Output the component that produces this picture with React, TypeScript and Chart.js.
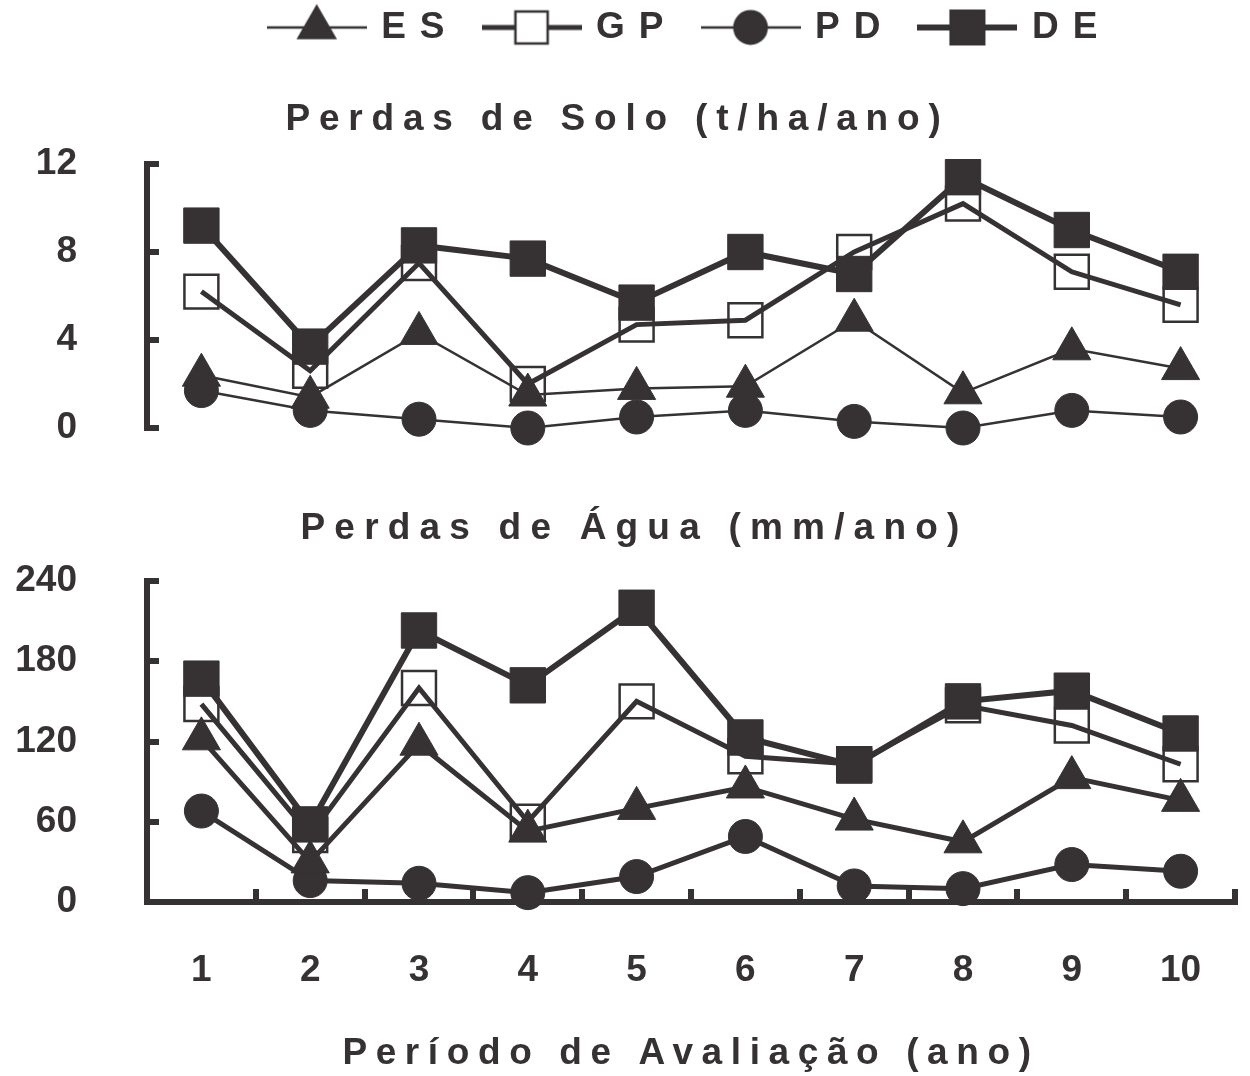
import React, { useEffect, useRef } from 'react';
import { Chart, registerables } from 'chart.js';
import { drawPoint } from 'chart.js/helpers';

Chart.register(...registerables);

// ---------- data ----------
const periods = ['1', '2', '3', '4', '5', '6', '7', '8', '9', '10'];
const seriesNames = ['ES', 'GP', 'PD', 'DE'];

// Perdas de Solo (t/ha/ano)
const soilES = [2.4, 1.4, 4.3, 1.5, 1.8, 1.9, 4.9, 1.6, 3.6, 2.7];
const soilGP = [6.2, 2.6, 7.5, 2.0, 4.7, 4.9, 8.0, 10.2, 7.1, 5.6];
const soilPD = [1.7, 0.8, 0.4, 0.0, 0.5, 0.8, 0.3, 0.0, 0.8, 0.5];
const soilDE = [9.2, 3.7, 8.3, 7.7, 5.7, 8.0, 7.0, 11.4, 9.0, 7.1];

// Perdas de Água (mm/ano)
const waterES = [122, 30, 118, 53, 70, 86, 62, 45, 93, 76];
const waterGP = [148, 50, 160, 60, 150, 109, 103, 147, 132, 103];
const waterPD = [68, 16, 14, 7, 19, 49, 12, 10, 28, 23];
const waterDE = [167, 58, 203, 162, 220, 123, 102, 150, 158, 126];

const soilAxis = { min: 0, max: 12, step: 4 };
const waterAxis = { min: 0, max: 240, step: 60 };

const titleSoil = 'Perdas de Solo (t/ha/ano)';
const titleWater = 'Perdas de Água (mm/ano)';
const titleX = 'Período de Avaliação (ano)';

// ---------- styles ----------
const INK = '#363234';
const FAMILY = "'Liberation Sans', Arial, Helvetica, sans-serif";
const FS = 37;
const bold = (size: number) => ({ family: FAMILY, size, weight: 'bold' as const });

const markerStyles = [
  { pointStyle: 'triangle', radius: 22, filled: true, soilLine: 2.5, waterLine: 5 },
  { pointStyle: 'rect', radius: 24, filled: false, soilLine: 5, waterLine: 5 },
  { pointStyle: 'circle', radius: 17, filled: true, soilLine: 2.5, waterLine: 5 },
  { pointStyle: 'rect', radius: 25, filled: true, soilLine: 6, waterLine: 6 },
];

function makeDatasets(values: number[][], kind: 'soil' | 'water') {
  return values.map((data, i) => {
    const s = markerStyles[i];
    return {
      label: seriesNames[i],
      data,
      borderColor: INK,
      backgroundColor: INK,
      borderWidth: kind === 'soil' ? s.soilLine : s.waterLine,
      pointStyle: s.pointStyle,
      pointRadius: s.radius,
      pointHoverRadius: s.radius,
      pointBackgroundColor: s.filled ? INK : 'rgba(0,0,0,0)',
      pointBorderColor: INK,
      pointBorderWidth: s.filled ? 1 : 2.5,
      tension: 0,
      fill: false,
      clip: false as any,
    };
  });
}

function legendImage(i: number) {
  const s = markerStyles[i];
  const c = document.createElement('canvas');
  c.width = 100;
  c.height = 50;
  const g = c.getContext('2d')!;
  g.strokeStyle = INK;
  g.lineWidth = s.soilLine;
  g.beginPath();
  g.moveTo(0, 25);
  g.lineTo(100, 25);
  g.stroke();
  g.fillStyle = s.filled ? INK : '#ffffff';
  g.lineWidth = 2.5;
  drawPoint(
    g,
    { pointStyle: s.pointStyle as any, radius: s.radius * 0.95, borderWidth: s.filled ? 1 : 2.5, rotation: 0 } as any,
    50,
    25
  );
  return c;
}

// ---------- letter spacing plugin ----------
function wrap(obj: any, name: string, sp: string, dx = 0) {
  if (!obj || typeof obj[name] !== 'function' || obj['__sp_' + name]) return;
  const orig = obj[name];
  obj[name] = function (...args: any[]) {
    const ctx = this.ctx as any;
    const prev = ctx.letterSpacing;
    ctx.save();
    ctx.letterSpacing = sp;
    if (dx) ctx.translate(dx, 0);
    try {
      return orig.apply(this, args);
    } finally {
      ctx.restore();
      ctx.letterSpacing = prev;
    }
  };
  obj['__sp_' + name] = true;
}

function patch(chart: any, opts: any) {
  if (chart.legend) {
    wrap(chart.legend, 'fit', opts.legend || '0px');
    wrap(chart.legend, 'draw', opts.legend || '0px');
  }
  if (chart.titleBlock) wrap(chart.titleBlock, 'draw', opts.title || '0px', opts.titleShift || 0);
  Object.values(chart.scales || {}).forEach((sc: any) => {
    wrap(sc, 'drawLabels', opts.ticks || '0px');
    wrap(sc, 'drawTitle', opts.axisTitle || '0px');
  });
}

const spacingPlugin = {
  id: 'spacing',
  beforeLayout(chart: any, _a: any, opts: any) {
    patch(chart, opts);
  },
  beforeDraw(chart: any, _a: any, opts: any) {
    patch(chart, opts);
  },
};

const noPadding = (s: any) => {
  s.paddingTop = 0;
  s.paddingBottom = 0;
  s.paddingLeft = 0;
  s.paddingRight = 0;
};

const axisGrid = (tl: number) => ({
  drawOnChartArea: false,
  drawTicks: true,
  tickLength: tl,
  tickWidth: 6,
  lineWidth: 6,
  color: INK,
  tickColor: INK,
});

function topConfig(): any {
  return {
    type: 'line',
    data: { labels: periods, datasets: makeDatasets([soilES, soilGP, soilPD, soilDE], 'soil') },
    plugins: [spacingPlugin],
    options: {
      responsive: false,
      animation: false,
      events: [],
      layout: { padding: { left: 0, right: 15, top: 0, bottom: 22 }, autoPadding: false },
      plugins: {
        spacing: { legend: '14px', title: '8.8px', ticks: '0px' },
        tooltip: { enabled: false },
        legend: {
          display: true,
          position: 'top',
          fullSize: false,
          weight: 3000,
          labels: {
            usePointStyle: true,
            pointStyleWidth: 92,
            padding: 27,
            color: INK,
            font: bold(FS),
            generateLabels: (chart: any) =>
              chart.data.datasets.map((ds: any, i: number) => ({
                text: ds.label,
                pointStyle: legendImage(i),
                fillStyle: INK,
                strokeStyle: INK,
                lineWidth: 0,
                hidden: false,
                fontColor: INK,
                datasetIndex: i,
              })),
          },
        },
        title: {
          display: true,
          text: titleSoil,
          color: INK,
          font: bold(FS),
          padding: { top: 41.8, bottom: 21.8 },
        },
      },
      scales: {
        x: {
          type: 'category',
          offset: true,
          display: false,
          grid: { offset: true },
          afterFit: (s: any) => {
            noPadding(s);
            s.height = 0;
          },
        },
        y: {
          min: soilAxis.min,
          max: soilAxis.max,
          ticks: { stepSize: soilAxis.step, padding: 82, color: INK, font: bold(FS) },
          grid: axisGrid(-12),
          border: { display: true, width: 6, color: INK },
          afterFit: (s: any) => {
            noPadding(s);
            s.width = 147;
          },
        },
      },
    },
  };
}

function bottomConfig(): any {
  return {
    type: 'line',
    data: { labels: periods, datasets: makeDatasets([waterES, waterGP, waterPD, waterDE], 'water') },
    plugins: [spacingPlugin],
    options: {
      responsive: false,
      animation: false,
      events: [],
      layout: { padding: { left: 0, right: 15, top: 0, bottom: 0 }, autoPadding: false },
      plugins: {
        spacing: { title: '9.2px', titleShift: 17, ticks: '0px', axisTitle: '8.6px' },
        tooltip: { enabled: false },
        legend: { display: false },
        title: {
          display: true,
          text: titleWater,
          color: INK,
          font: bold(FS),
          padding: { top: 37.8, bottom: 29.8 },
        },
      },
      scales: {
        x: {
          type: 'category',
          offset: true,
          grid: { ...axisGrid(-13), offset: true },
          border: { display: true, width: 6, color: INK },
          ticks: { padding: 59.8, color: INK, font: bold(FS), maxRotation: 0, autoSkip: false },
          title: { display: true, text: titleX, color: INK, font: bold(FS), padding: { top: 0, bottom: 0 } },
          afterFit: (s: any) => {
            noPadding(s);
            s.height = 174;
          },
        },
        y: {
          min: waterAxis.min,
          max: waterAxis.max,
          ticks: { stepSize: waterAxis.step, padding: 82, color: INK, font: bold(FS) },
          grid: axisGrid(-12),
          border: { display: true, width: 6, color: INK },
          afterFit: (s: any) => {
            noPadding(s);
            s.width = 147;
          },
        },
      },
    },
  };
}

export default function App() {
  const topRef = useRef<HTMLCanvasElement>(null);
  const botRef = useRef<HTMLCanvasElement>(null);
  useEffect(() => {
    const a = new Chart(topRef.current as HTMLCanvasElement, topConfig());
    const b = new Chart(botRef.current as HTMLCanvasElement, bottomConfig());
    return () => {
      a.destroy();
      b.destroy();
    };
  }, []);
  return (
    <div
      style={{
        position: 'absolute',
        left: 0,
        top: 0,
        width: 1250,
        height: 1076,
        background: '#ffffff',
        overflow: 'hidden',
      }}
    >
      <canvas
        ref={topRef}
        width={1250}
        height={468}
        style={{ position: 'absolute', left: 0, top: -18, width: 1250, height: 468 }}
      />
      <canvas
        ref={botRef}
        width={1250}
        height={607}
        style={{ position: 'absolute', left: 0, top: 469, width: 1250, height: 607 }}
      />
    </div>
  );
}
